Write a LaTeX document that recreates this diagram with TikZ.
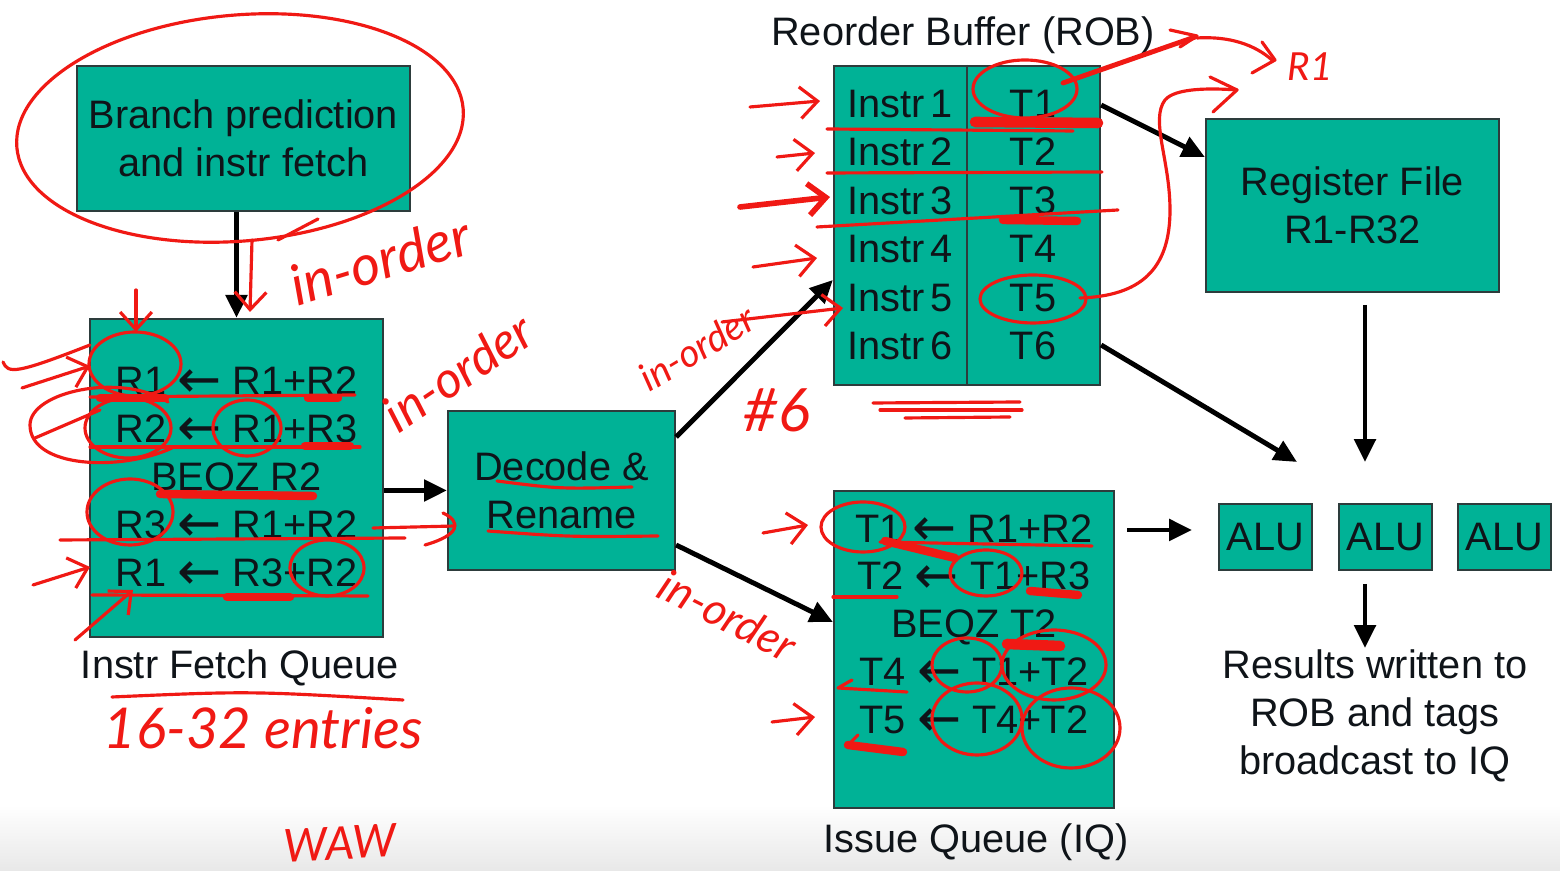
\documentclass[tikz,border=0pt]{standalone}
\usepackage{fontspec}
\setmainfont{Liberation Sans}
\newfontfamily\arrowfont{DejaVu Sans}
\newfontfamily\handfont{Lato}
\usetikzlibrary{arrows.meta,calc}
\definecolor{slideteal}{RGB}{0,178,150}
\definecolor{boxline}{RGB}{45,60,60}
\definecolor{ink}{RGB}{15,20,25}
\definecolor{penred}{RGB}{240,25,20}
\newcommand\slidetext{\fontsize{11.3}{13.66}\selectfont}
\newcommand\larr{\raisebox{-0.9pt}{\arrowfont\fontsize{15}{15}\selectfont ←}}
\newcommand\handsize[1]{\handfont\itshape\fontsize{#1}{#1}\selectfont}
\begin{document}
\begin{tikzpicture}[x=0.01cm,y=-0.01cm,
  box/.style={draw=boxline,line width=0.6pt,fill=slideteal,inner sep=0pt,text=ink,font=\slidetext,align=center},
  lbl/.style={text=ink,font=\slidetext,align=center,inner sep=0pt},
  arr/.style={draw=black,line width=1.4pt,-{Triangle[length=6.5pt,width=6pt]}},
  scrib/.style={draw=penred,line width=0.9pt,line cap=round,line join=round},
  heavy/.style={scrib,line width=2.4pt},
  barb/.style={scrib,-{Straight Barb[length=5pt,width=9pt]}},
  hand/.style={text=penred,inner sep=0pt},
]
% page and the grey fade at the foot of the slide
\useasboundingbox (0,0) rectangle (1560,871);
\fill[white] (0,0) rectangle (1560,871);
\shade[top color=white,bottom color=black!9] (0,805) rectangle (1560,871);

% ---------- pipeline blocks ----------
\node[box,minimum width=3.33cm,minimum height=1.45cm] (bp) at (243.5,138.5) {Branch prediction\\and instr fetch};
\node[box,minimum width=2.93cm,minimum height=3.18cm] (ifq) at (236.5,478)
  {R1 \larr\ R1+R2\\R2 \larr\ R1+R3\\BEQZ R2\\R3 \larr\ R1+R2\\R1 \larr\ R3+R2};
\node[lbl] (ifqlbl) at (240,668) {Instr Fetch Queue};
\node[box,minimum width=2.27cm,minimum height=1.59cm] (dec) at (561.5,490.5) {Decode \&\\Rename};

\node[box,minimum width=2.66cm,minimum height=3.19cm] (rob) at (967,225.5) {};
\draw[boxline,line width=0.6pt] (rob.north) -- (rob.south);
\node[lbl,font=\fontsize{11.3}{13.8}\selectfont] (robl) at (900,225) {Instr\,1\\Instr\,2\\Instr\,3\\Instr\,4\\Instr\,5\\Instr\,6};
\node[lbl,font=\fontsize{11.3}{13.8}\selectfont] (robr) at (1033,225) {T1\\T2\\T3\\T4\\T5\\T6};
\node[lbl] (roblbl) at (963,35) {Reorder Buffer (ROB)};

\node[box,minimum width=2.93cm,minimum height=1.73cm] (rf) at (1352.5,205.5) {Register File\\R1-R32};

\node[box,minimum width=2.80cm,minimum height=3.17cm] (iq) at (974,649.5) {};
\node[lbl,font=\fontsize{11.3}{13.59}\selectfont] (iqtext) at (974,625.5)
  {T1 \larr\ R1+R2\\T2 \larr\ T1+R3\\BEQZ T2\\T4 \larr\ T1+T2\\T5 \larr\ T4+T2};
\node[lbl] (iqlbl) at (976,842) {Issue Queue (IQ)};

\node[box,minimum width=0.93cm,minimum height=0.66cm] (alu1) at (1265.5,537) {ALU};
\node[box,minimum width=0.93cm,minimum height=0.66cm] (alu2) at (1385.5,537) {ALU};
\node[box,minimum width=0.93cm,minimum height=0.66cm] (alu3) at (1504.5,537) {ALU};
\node[lbl] (res) at (1375,716) {Results written to\\ROB and tags\\broadcast to IQ};

% ---------- connectors ----------
\coordinate (aluin) at (1297,462);
\coordinate (rfout) at (1365,305);
\coordinate (rfin) at (1365,462);
\coordinate (iqout) at (1127,530);
\coordinate (iqin) at (1192,530);
\coordinate (aluout) at (1365,584);
\coordinate (resin) at (1365,648);
\draw[arr] (bp.south -| ifq.north) -- (ifq.north);
\draw[arr] (ifq.east |- dec.west) -- (dec.west);
\draw[arr] ($(dec.east)+(0,-53.5)$) -- ($(rob.west)+(0,54.5)$);
\draw[arr] ($(dec.east)+(0,54.5)$) -- ($(iq.west)+(0,-27.5)$);
\draw[arr] ($(rob.east)+(0,-120.5)$) -- ($(rf.west)+(0,-48.5)$);
\draw[arr] ($(rob.east)+(0,119.5)$) -- (aluin);
\draw[arr] (rfout) -- (rfin);
\draw[arr] (iqout) -- (iqin);
\draw[arr] (aluout) -- (resin);

% ---------- pen marks: fetch stage ----------
\draw[scrib,rotate around={5:(240,128)}] (240,128) ellipse [x radius=224,y radius=113];
\draw[scrib] (278,240) -- (318,219);
\draw[barb] (252,240) -- (250,312);
\node[hand,font=\handsize{16},rotate=17] (io1) at (380,260) {in-order};

% fetch queue marks
\draw[barb] (136,290) -- (136,332);
\draw[scrib] (3,362) .. controls (8,374) and (16,374) .. (90,345);
\draw[barb] (22,388) -- (90,366);
\draw[scrib] (135,364) ellipse [x radius=46,y radius=32];
\draw[scrib] (90,397) -- (355,395);
\draw[heavy] (100,398) -- (165,398);
\draw[heavy] (308,398) -- (338,398);
\draw[scrib] (168,402) .. controls (120,372) and (30,392) .. (30,425) .. controls (30,468) and (120,472) .. (172,448);
\draw[scrib] (35,438) -- (100,410);
\draw[scrib] (128,428) ellipse [x radius=43,y radius=30];
\draw[scrib] (247,428) ellipse [x radius=34,y radius=28];
\draw[scrib] (90,447) -- (360,447);
\draw[heavy] (305,446) -- (350,446);
\draw[heavy] (160,494) -- (313,496);
\draw[scrib] (130,512) ellipse [x radius=43,y radius=33];
\draw[scrib] (60,540) -- (405,538);
\draw[scrib] (373,528) -- (455,526);
\draw[scrib] (443,513) .. controls (462,522) and (460,535) .. (425,545);
\draw[scrib] (327,568) ellipse [x radius=37,y radius=28];
\draw[barb] (33,585) -- (90,567);
\draw[scrib] (92,595) -- (368,596);
\draw[heavy] (227,597) -- (290,597);
\draw[barb] (75,640) -- (133,590);
\node[hand,font=\handsize{14.5},rotate=34] (io2) at (458,372) {in-order};
\draw[scrib] (112,697) .. controls (250,691) .. (403,700);
\node[hand,font=\handsize{16}] (ent) at (263,728) {16-32 entries};
\node[hand,font=\handsize{13},rotate=3] (waw) at (340,843) {WAW};

% decode marks
\draw[scrib] (497,481) .. controls (560,489) .. (632,487);
\draw[scrib] (488,531) .. controls (570,537) .. (658,536);
\node[hand,font=\handsize{11},rotate=31] (io3) at (697,348) {in-order};
\draw[barb] (722,322) -- (843,308);
\node[hand,font=\handsize{17}] (six) at (777,410) {\#6};
\draw[scrib] (873,403) -- (1020,402);
\draw[scrib] (880,410) -- (1022,410);
\draw[scrib] (905,418) -- (1010,417);
\node[hand,font=\handsize{12.7},rotate=-27] (io4) at (728,615) {in-order};

% reorder buffer marks
\draw[barb] (750,107) -- (820,101);
\draw[barb] (777,157) -- (815,153);
\draw[barb,line width=1.6pt] (740,207) -- (830,197);
\draw[barb] (753,267) -- (817,258);
\draw[scrib] (1025,89) ellipse [x radius=52,y radius=29];
\draw[heavy,line width=3pt] (975,122) -- (1098,123);
\draw[scrib] (827,129) -- (1073,131);
\draw[scrib] (827,173) -- (1102,172);
\draw[scrib] (817,227) -- (1118,210);
\draw[heavy] (1003,220) -- (1077,221);
\draw[scrib] (1033,299) ellipse [x radius=53,y radius=24];
\draw[scrib,line width=1.4pt] (1063,83) -- (1195,37);
\draw[scrib] (1170,30) -- (1197,36) -- (1180,47);
\draw[scrib] (1197,38) .. controls (1230,36) and (1255,45) .. (1272,60);
\draw[scrib] (1262,42) -- (1275,60) -- (1252,73);
\node[hand,font=\handsize{11}] (r1) at (1310,67) {R1};
\draw[scrib] (1080,298) .. controls (1140,296) and (1170,270) .. (1170,210)
  .. controls (1170,160) and (1150,120) .. (1165,100)
  .. controls (1175,88) and (1210,88) .. (1237,90);
\draw[scrib] (1210,77) -- (1237,90) -- (1213,112);

% issue queue marks
\draw[barb] (763,533) -- (808,525);
\draw[barb] (772,722) -- (815,717);
\draw[scrib] (863,527) ellipse [x radius=42,y radius=25];
\draw[scrib] (880,542) -- (1092,546);
\draw[heavy] (885,541) -- (955,558);
\draw[scrib] (986,573) ellipse [x radius=36,y radius=23];
\draw[scrib] (833,597) -- (897,597);
\draw[heavy] (1030,591) -- (1078,595);
\draw[heavy,line width=3pt] (1007,644) -- (1060,646);
\draw[scrib] (967,665) ellipse [x radius=35,y radius=27];
\draw[scrib] (1054,665) ellipse [x radius=52,y radius=35];
\draw[scrib] (852,680) -- (838,688) -- (907,692);
\draw[scrib] (977,719) ellipse [x radius=45,y radius=36];
\draw[scrib] (1071,728) ellipse [x radius=49,y radius=40];
\draw[scrib] (858,735) -- (848,745);
\draw[heavy] (848,745) -- (903,752);
\end{tikzpicture}
\end{document}
